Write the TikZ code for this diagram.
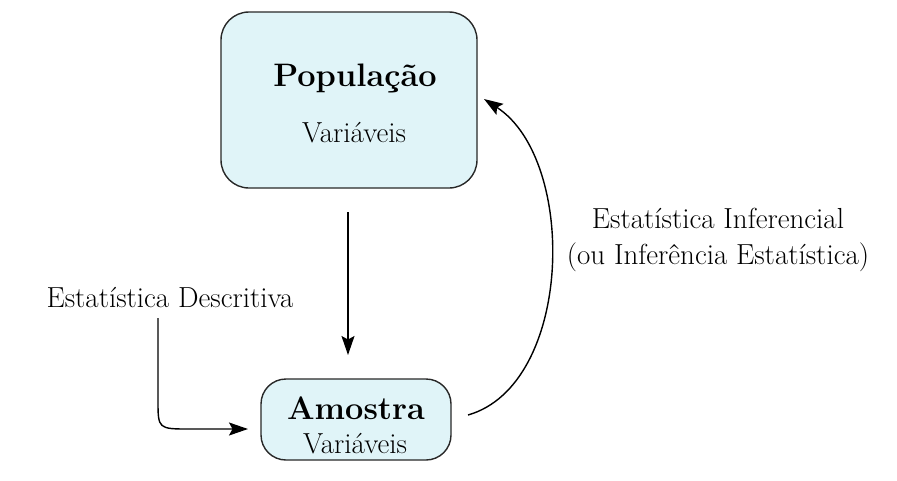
\documentclass[tikz,border=0pt]{standalone}
\usepackage{fontspec}
\usetikzlibrary{arrows.meta}
\definecolor{boxfill}{RGB}{224,244,248}
\definecolor{boxline}{RGB}{40,40,40}
\begin{document}
\begin{tikzpicture}[x=1pt,y=-1pt,
  boxstyle/.style={draw=boxline,line width=1.4pt,fill=boxfill,rounded corners=28pt,inner sep=0pt},
  conn/.style={line width=1.4pt,-{Stealth[length=19pt,width=13pt,inset=3.5pt]}},
  plain/.style={font=\fontsize{29}{34}\selectfont},
  heavy/.style={font=\fontsize{32.5}{38}\selectfont\bfseries}]
\useasboundingbox (0,0) rectangle (897,480);
\node[boxstyle,minimum width=256pt,minimum height=176pt] (pop) at (349,100) {};
\node[boxstyle,minimum width=190pt,minimum height=81pt,rounded corners=25pt] (amo) at (356,419.5) {};
\node[heavy] (popt) at (355,78) {População};
\node[plain] (popv) at (354,133) {Variáveis};
\node[heavy] (amot) at (356,408) {Amostra};
\node[plain] (amov) at (355,444) {Variáveis};
\node[plain] (desc) at (170,298) {Estatística Descritiva};
\node[plain] (inf1) at (718,218) {Estatística Inferencial};
\node[plain] (inf2) at (718,257) {(ou Inferência Estatística)};
\coordinate (d1) at (348,212);
\coordinate (d2) at (348,355);
\coordinate (e1) at (158,318);
\coordinate (e2) at (248,429);
\coordinate (i1) at (468,415);
\coordinate (i2) at (484,99);
\draw[conn] (d1) -- (d2);
\draw[conn] (e1) -- (158,400) .. controls (158,429) .. (190,429) -- (e2);
\draw[conn] (i1) .. controls (573,385) and (578,160) .. (i2);
\end{tikzpicture}
\end{document}
